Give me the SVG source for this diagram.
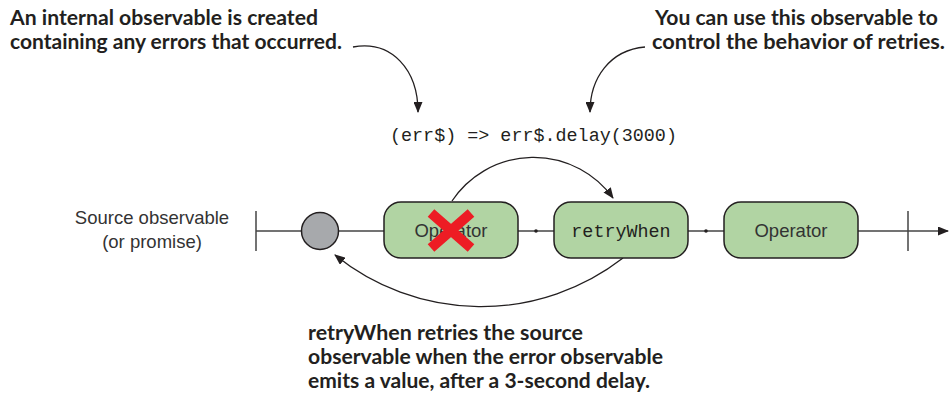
<svg xmlns="http://www.w3.org/2000/svg" width="949" height="396" viewBox="0 0 949 396">
<style>
.ann{font-family:Lato,"Open Sans",sans-serif;font-weight:bold;font-size:20px;fill:#231f20}
.box{fill:#b1d4a3;stroke:#231f20;stroke-width:1.5}
.lbl{font-family:"Liberation Sans",Arial,sans-serif;font-size:18.5px;fill:#333;text-anchor:middle}
.mono{font-family:"Liberation Mono","Courier New",monospace;font-size:18.4px;fill:#231f20}
.ln{stroke:#444;stroke-width:1.5;fill:none}
.cv{stroke:#231f20;stroke-width:1.3;fill:none}
</style>
<defs>
<marker id="ah" markerWidth="11" markerHeight="9" refX="10" refY="4.5" orient="auto" markerUnits="userSpaceOnUse">
<path d="M0,0 L11,4.5 L0,9 z" fill="#231f20"/>
</marker>
</defs>
<rect width="949" height="396" fill="#fff"/>

<g id="annotations">
<text class="ann" x="10" y="25" textLength="308" lengthAdjust="spacingAndGlyphs">An internal observable is created</text>
<text class="ann" x="10" y="49" textLength="332" lengthAdjust="spacingAndGlyphs">containing any errors that occurred.</text>
<text class="ann" x="655" y="25" textLength="283" lengthAdjust="spacingAndGlyphs">You can use this observable to</text>
<text class="ann" x="652" y="49" textLength="293" lengthAdjust="spacingAndGlyphs">control the behavior of retries.</text>
<text class="ann" x="308" y="340" textLength="275" lengthAdjust="spacingAndGlyphs">retryWhen retries the source</text>
<text class="ann" x="308" y="364" textLength="355" lengthAdjust="spacingAndGlyphs">observable when the error observable</text>
<text class="ann" x="308" y="388" textLength="342" lengthAdjust="spacingAndGlyphs">emits a value, after a 3-second delay.</text>
<text class="mono" x="390" y="141">(err$) =&gt; err$.delay(3000)</text>
</g>

<g id="source-label">
<text class="lbl" x="152" y="224">Source observable</text>
<text class="lbl" x="152" y="248">(or promise)</text>
</g>

<g id="connectors">
<line class="ln" x1="256" y1="211" x2="256" y2="251"/>
<line class="ln" x1="256" y1="231" x2="302" y2="231"/>
<line class="ln" x1="338" y1="231" x2="384" y2="231"/>
<line class="ln" x1="518" y1="231" x2="554" y2="231"/>
<circle cx="536" cy="231" r="1.8" fill="#231f20"/>
<line class="ln" x1="688" y1="231" x2="724" y2="231"/>
<circle cx="706" cy="231" r="1.8" fill="#231f20"/>
<line class="ln" x1="858" y1="231" x2="948" y2="231" marker-end="url(#ah)"/>
<line class="ln" x1="908" y1="211" x2="908" y2="251"/>
<path class="cv" d="M452,201 A98,98 0 0 1 613,198" marker-end="url(#ah)"/>
<path class="cv" d="M623,258 A232,232 0 0 1 335,255" marker-end="url(#ah)"/>
<path class="cv" d="M353,47 C392,40 418,70 418,112" marker-end="url(#ah)"/>
<path class="cv" d="M645,47 C610,50 590,78 590,112" marker-end="url(#ah)"/>
</g>

<g id="source-node">
<circle cx="320" cy="231" r="18.5" fill="#a7a9ac" stroke="#231f20" stroke-width="1.5"/>
</g>

<g id="operator1">
<rect class="box" x="384" y="202" width="134" height="56" rx="17"/>
<text class="lbl" x="451" y="237">Operator</text>
<path d="M431,213 L471,248 M471,213 L431,248" stroke="#ed1c24" stroke-width="10" fill="none"/>
</g>

<g id="retryWhen">
<rect class="box" x="554" y="202" width="134" height="56" rx="17"/>
<text class="mono" x="621" y="237" text-anchor="middle">retryWhen</text>
</g>

<g id="operator2">
<rect class="box" x="724" y="202" width="134" height="56" rx="17"/>
<text class="lbl" x="791" y="237">Operator</text>
</g>
</svg>
